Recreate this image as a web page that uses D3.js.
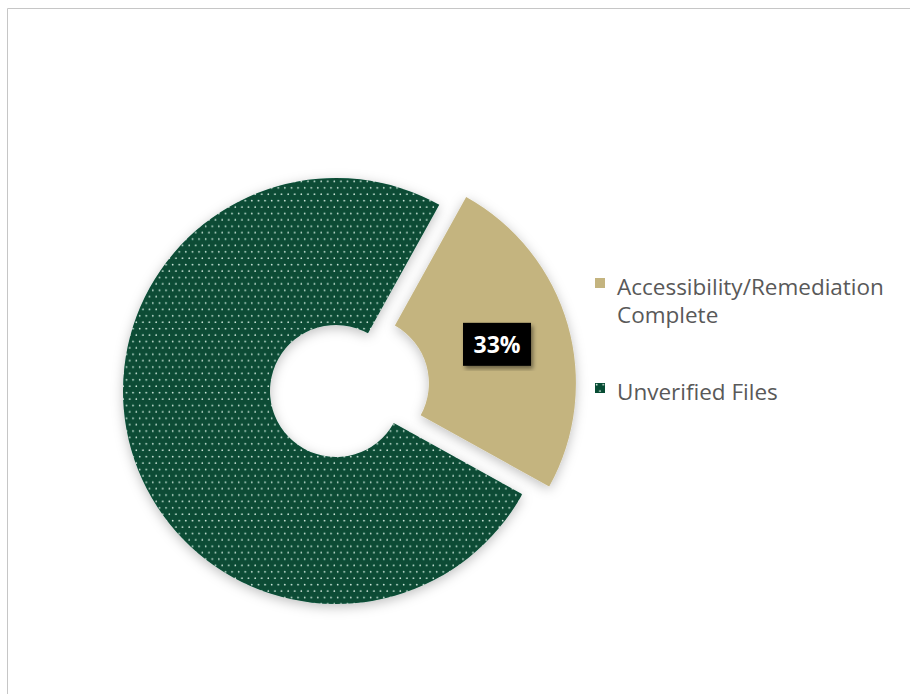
<!DOCTYPE html>
<html>
<head>
<meta charset="utf-8">
<script src="https://cdn.jsdelivr.net/npm/d3@7"></script>
<style>
  body { margin: 0; background: #fff; }
  svg { display: block; }
</style>
</head>
<body>
<div id="chart"></div>
<script>
// data
const categories = ['Accessibility/Remediation Complete', 'Unverified Files'];
const values = [25, 75];
const sliceLabels = ['33%', ''];
const colors = ['#c4b47f', '#074c34'];

const width = 910;
const height = 694;

const svg = d3.select('#chart')
  .append('svg')
  .attr('width', width)
  .attr('height', height);

const defs = svg.append('defs');

// dotted fill like the excel pattern (staggered rows)
const pw = 6.6, ph = 12.8;
const pat = defs.append('pattern')
  .attr('id', 'dots')
  .attr('patternUnits', 'userSpaceOnUse')
  .attr('width', pw)
  .attr('height', ph);
pat.append('rect').attr('width', pw).attr('height', ph).attr('fill', colors[1]);
pat.append('circle').attr('cx', 1.65).attr('cy', 1.6).attr('r', 0.85).attr('fill', '#dcebe2');
pat.append('circle').attr('cx', 4.95).attr('cy', 8.0).attr('r', 0.85).attr('fill', '#dcebe2');

const shadow = defs.append('filter')
  .attr('id', 'shadow')
  .attr('x', '-20%').attr('y', '-20%')
  .attr('width', '140%').attr('height', '140%');
shadow.append('feDropShadow')
  .attr('dx', 0).attr('dy', 3)
  .attr('stdDeviation', 6)
  .attr('flood-color', '#000')
  .attr('flood-opacity', 0.25);

const boxShadow = defs.append('filter').attr('id', 'boxShadow');
boxShadow.append('feDropShadow')
  .attr('dx', 2).attr('dy', 3)
  .attr('stdDeviation', 2)
  .attr('flood-color', '#000')
  .attr('flood-opacity', 0.45);

// frame (only top and left edges show)
svg.append('path')
  .attr('d', 'M7.5,' + height + 'V8.5H' + width)
  .attr('fill', 'none')
  .attr('stroke', '#c6c6c6')
  .attr('stroke-width', 1);

const cx = 336, cy = 391;
const outerR = 213, innerR = 66;
const explode = 28;

const pie = d3.pie()
  .sort(null)
  .startAngle(29 * Math.PI / 180)
  .endAngle(29 * Math.PI / 180 + 2 * Math.PI);

const arc = d3.arc().innerRadius(innerR).outerRadius(outerR);

const slices = pie(values);

const g = svg.append('g').attr('transform', `translate(${cx},${cy})`);

function offset(d, i) {
  if (i !== 0) return [0, 0];
  const a = (d.startAngle + d.endAngle) / 2;
  return [Math.sin(a) * explode, -Math.cos(a) * explode];
}

g.selectAll('path.slice')
  .data(slices)
  .join('path')
  .attr('class', 'slice')
  .attr('transform', (d, i) => `translate(${offset(d, i)})`)
  .attr('d', arc)
  .attr('fill', (d, i) => i === 1 ? 'url(#dots)' : colors[i])
  .attr('filter', 'url(#shadow)');

// data label
const labelG = g.selectAll('g.lbl')
  .data(slices.filter((d, i) => sliceLabels[i]))
  .join('g')
  .attr('class', 'lbl')
  .attr('transform', (d) => {
    const o = offset(d, d.index);
    const c = arc.centroid(d);
    return `translate(${c[0] + o[0]},${c[1] + o[1]})`;
  });

labelG.append('rect')
  .attr('x', -34).attr('y', -22)
  .attr('width', 68).attr('height', 43)
  .attr('fill', '#000')
  .attr('filter', 'url(#boxShadow)');

labelG.append('text')
  .attr('text-anchor', 'middle')
  .attr('dy', '0.36em')
  .attr('fill', '#fff')
  .style('font-family', '"Open Sans", sans-serif')
  .style('font-weight', 'bold')
  .style('font-size', '23px')
  .text((d) => sliceLabels[d.index]);

// legend
const legend = svg.append('g').attr('transform', 'translate(595,278)');
const legendY = [0, 105];
const legendLines = [['Accessibility/Remediation', 'Complete'], ['Unverified Files']];

const item = legend.selectAll('g')
  .data(categories)
  .join('g')
  .attr('transform', (d, i) => `translate(0,${legendY[i]})`);

item.append('rect')
  .attr('width', 10).attr('height', 10)
  .attr('fill', (d, i) => i === 1 ? 'url(#dots)' : colors[i]);

item.append('text')
  .attr('x', 22)
  .attr('y', 17)
  .attr('fill', '#595959')
  .style('font-family', '"Open Sans", sans-serif')
  .style('font-size', '22.5px')
  .selectAll('tspan')
  .data((d, i) => legendLines[i])
  .join('tspan')
  .attr('x', 22)
  .attr('dy', (d, j) => j === 0 ? 0 : 28)
  .text((d) => d);
</script>
</body>
</html>
